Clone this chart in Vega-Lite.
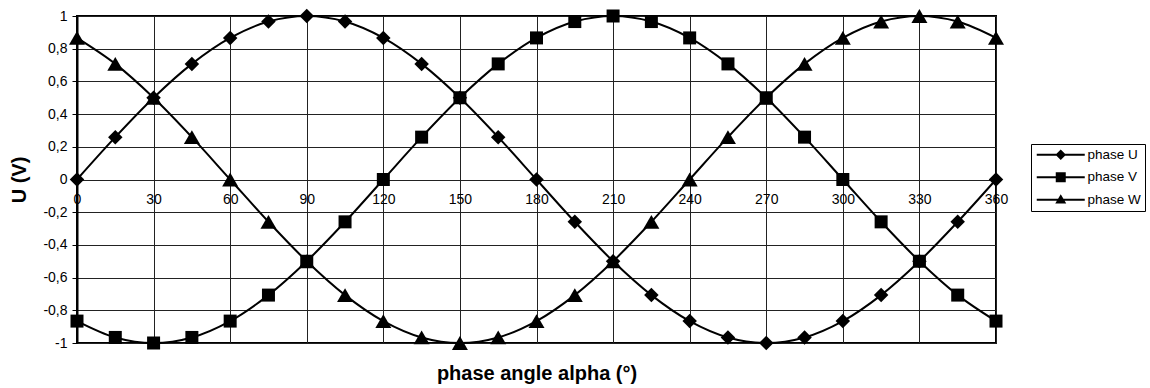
{
  "$schema": "https://vega.github.io/schema/vega-lite/v6.json",
  "autosize": "none",
  "width": 919,
  "height": 327,
  "padding": {"left": 77, "top": 16, "right": 154, "bottom": 45},
  "background": "white",
  "config": {
    "font": "Liberation Sans",
    "view": {"stroke": "black", "strokeWidth": 2},
    "axis": {"labelColor": "black", "titleColor": "black"}
  },
  "data": {
    "values": [
      {"alpha": 0, "phase": "phase U", "u": 0},
      {"alpha": 15, "phase": "phase U", "u": 0.259},
      {"alpha": 30, "phase": "phase U", "u": 0.5},
      {"alpha": 45, "phase": "phase U", "u": 0.707},
      {"alpha": 60, "phase": "phase U", "u": 0.866},
      {"alpha": 75, "phase": "phase U", "u": 0.966},
      {"alpha": 90, "phase": "phase U", "u": 1},
      {"alpha": 105, "phase": "phase U", "u": 0.966},
      {"alpha": 120, "phase": "phase U", "u": 0.866},
      {"alpha": 135, "phase": "phase U", "u": 0.707},
      {"alpha": 150, "phase": "phase U", "u": 0.5},
      {"alpha": 165, "phase": "phase U", "u": 0.259},
      {"alpha": 180, "phase": "phase U", "u": 0},
      {"alpha": 195, "phase": "phase U", "u": -0.259},
      {"alpha": 210, "phase": "phase U", "u": -0.5},
      {"alpha": 225, "phase": "phase U", "u": -0.707},
      {"alpha": 240, "phase": "phase U", "u": -0.866},
      {"alpha": 255, "phase": "phase U", "u": -0.966},
      {"alpha": 270, "phase": "phase U", "u": -1},
      {"alpha": 285, "phase": "phase U", "u": -0.966},
      {"alpha": 300, "phase": "phase U", "u": -0.866},
      {"alpha": 315, "phase": "phase U", "u": -0.707},
      {"alpha": 330, "phase": "phase U", "u": -0.5},
      {"alpha": 345, "phase": "phase U", "u": -0.259},
      {"alpha": 360, "phase": "phase U", "u": 0},
      {"alpha": 0, "phase": "phase V", "u": -0.866},
      {"alpha": 15, "phase": "phase V", "u": -0.966},
      {"alpha": 30, "phase": "phase V", "u": -1},
      {"alpha": 45, "phase": "phase V", "u": -0.966},
      {"alpha": 60, "phase": "phase V", "u": -0.866},
      {"alpha": 75, "phase": "phase V", "u": -0.707},
      {"alpha": 90, "phase": "phase V", "u": -0.5},
      {"alpha": 105, "phase": "phase V", "u": -0.259},
      {"alpha": 120, "phase": "phase V", "u": 0},
      {"alpha": 135, "phase": "phase V", "u": 0.259},
      {"alpha": 150, "phase": "phase V", "u": 0.5},
      {"alpha": 165, "phase": "phase V", "u": 0.707},
      {"alpha": 180, "phase": "phase V", "u": 0.866},
      {"alpha": 195, "phase": "phase V", "u": 0.966},
      {"alpha": 210, "phase": "phase V", "u": 1},
      {"alpha": 225, "phase": "phase V", "u": 0.966},
      {"alpha": 240, "phase": "phase V", "u": 0.866},
      {"alpha": 255, "phase": "phase V", "u": 0.707},
      {"alpha": 270, "phase": "phase V", "u": 0.5},
      {"alpha": 285, "phase": "phase V", "u": 0.259},
      {"alpha": 300, "phase": "phase V", "u": 0},
      {"alpha": 315, "phase": "phase V", "u": -0.259},
      {"alpha": 330, "phase": "phase V", "u": -0.5},
      {"alpha": 345, "phase": "phase V", "u": -0.707},
      {"alpha": 360, "phase": "phase V", "u": -0.866},
      {"alpha": 0, "phase": "phase W", "u": 0.866},
      {"alpha": 15, "phase": "phase W", "u": 0.707},
      {"alpha": 30, "phase": "phase W", "u": 0.5},
      {"alpha": 45, "phase": "phase W", "u": 0.259},
      {"alpha": 60, "phase": "phase W", "u": 0},
      {"alpha": 75, "phase": "phase W", "u": -0.259},
      {"alpha": 90, "phase": "phase W", "u": -0.5},
      {"alpha": 105, "phase": "phase W", "u": -0.707},
      {"alpha": 120, "phase": "phase W", "u": -0.866},
      {"alpha": 135, "phase": "phase W", "u": -0.966},
      {"alpha": 150, "phase": "phase W", "u": -1},
      {"alpha": 165, "phase": "phase W", "u": -0.966},
      {"alpha": 180, "phase": "phase W", "u": -0.866},
      {"alpha": 195, "phase": "phase W", "u": -0.707},
      {"alpha": 210, "phase": "phase W", "u": -0.5},
      {"alpha": 225, "phase": "phase W", "u": -0.259},
      {"alpha": 240, "phase": "phase W", "u": 0},
      {"alpha": 255, "phase": "phase W", "u": 0.259},
      {"alpha": 270, "phase": "phase W", "u": 0.5},
      {"alpha": 285, "phase": "phase W", "u": 0.707},
      {"alpha": 300, "phase": "phase W", "u": 0.866},
      {"alpha": 315, "phase": "phase W", "u": 0.966},
      {"alpha": 330, "phase": "phase W", "u": 1},
      {"alpha": 345, "phase": "phase W", "u": 0.966},
      {"alpha": 360, "phase": "phase W", "u": 0.866}
    ]
  },
  "encoding": {
    "x": {
      "field": "alpha",
      "type": "quantitative",
      "scale": {"domain": [0, 360], "nice": false, "zero": false},
      "axis": {
        "title": "phase angle alpha (°)",
        "titleFontSize": 20,
        "titleFontWeight": "bold",
        "titleY": 200,
        "titleBaseline": "alphabetic",
        "offset": -163.5,
        "values": [0, 30, 60, 90, 120, 150, 180, 210, 240, 270, 300, 330, 360],
        "format": "d",
        "labelFontSize": 14,
        "labelPadding": 13,
        "labelFlush": false,
        "labelOverlap": false,
        "ticks": false,
        "domain": false,
        "grid": true,
        "gridColor": "#222",
        "gridWidth": 1,
        "gridOpacity": 1
      }
    },
    "y": {
      "field": "u",
      "type": "quantitative",
      "scale": {"domain": [-1, 1], "nice": false, "zero": false},
      "axis": {
        "title": "U (V)",
        "titleFontSize": 20,
        "titleFontWeight": "bold",
        "titleX": -58,
        "titleY": 163.5,
        "titleAlign": "center",
        "titleBaseline": "middle",
        "titleAngle": -90,
        "values": [-1, -0.8, -0.6, -0.4, -0.2, 0, 0.2, 0.4, 0.6, 0.8, 1],
        "labelExpr": "replace(replace(format(datum.value, '.1~f'), '.', ','), '−', '-')",
        "labelFontSize": 14,
        "labelPadding": 5,
        "labelOverlap": false,
        "ticks": true,
        "tickSize": 5,
        "tickColor": "black",
        "domain": true,
        "domainColor": "black",
        "domainWidth": 2,
        "grid": true,
        "gridColor": "#222",
        "gridWidth": 1,
        "gridOpacity": 1
      }
    }
  },
  "layer": [
    {
      "mark": {"type": "line", "color": "black", "strokeWidth": 2, "interpolate": "catmull-rom"},
      "encoding": {"detail": {"field": "phase", "type": "nominal"}}
    },
    {
      "mark": {"type": "point", "filled": true, "color": "black", "strokeWidth": 0, "opacity": 0, "size": 100},
      "encoding": {
        "shape": {
          "field": "phase",
          "type": "nominal",
          "scale": {
            "domain": ["phase U", "phase V", "phase W"],
            "range": [
              "M-4.8,-0.2L4.8,-0.2L4.8,0.2L-4.8,0.2ZM-1.05,0L0,-1.05L1.05,0L0,1.05Z",
              "M-4.8,-0.2L4.8,-0.2L4.8,0.2L-4.8,0.2ZM-1,-1L1,-1L1,1L-1,1Z",
              "M-4.8,-0.2L4.8,-0.2L4.8,0.2L-4.8,0.2ZM0,-1.1L1.1,0.75L-1.1,0.75Z"
            ]
          },
          "legend": {
            "title": null,
            "orient": "none",
            "legendX": 954,
            "legendY": 128,
            "padding": 4,
            "strokeColor": "black",
            "fillColor": "white",
            "symbolSize": 100,
            "symbolOffset": 19,
            "labelOffset": 20,
            "rowPadding": 7.5,
            "labelFontSize": 13.5,
            "labelColor": "black",
            "symbolOpacity": 1,
            "symbolStrokeWidth": 0,
            "symbolFillColor": "black"
          }
        }
      }
    },
    {
      "mark": {"type": "point", "filled": true, "color": "black", "opacity": 1, "clip": false},
      "encoding": {
        "shape": {
          "condition": [
            {"test": "datum.phase === 'phase V'", "value": "square"},
            {"test": "datum.phase === 'phase W'", "value": "triangle-up"}
          ],
          "value": "diamond"
        },
        "size": {
          "condition": [
            {"test": "datum.phase === 'phase W'", "value": 256},
            {"test": "datum.phase === 'phase U'", "value": 210}
          ],
          "value": 169
        }
      }
    }
  ]
}
